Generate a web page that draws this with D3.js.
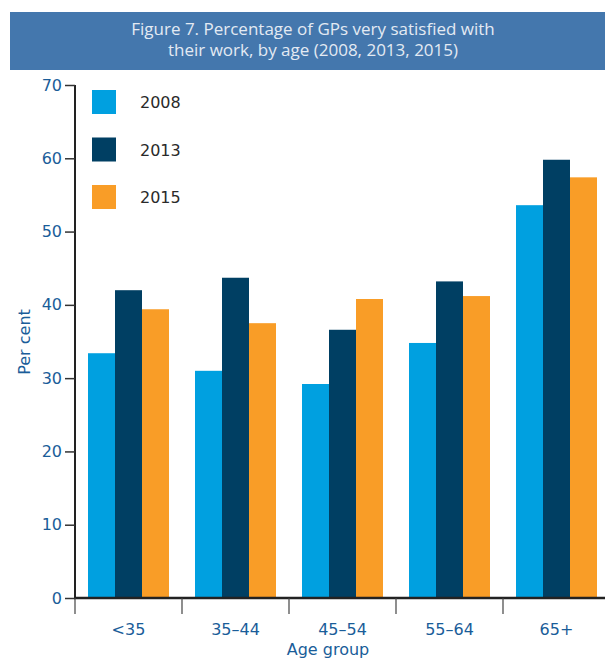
<!DOCTYPE html>
<html>
<head>
<meta charset="utf-8">
<script src="https://cdn.jsdelivr.net/npm/d3@7"></script>
<style>
  body { margin: 0; background: #fff; }
  svg { display: block; }
</style>
</head>
<body>
<div id="chart"></div>
<script>
// data
const ageGroups = ["<35", "35\u201344", "45\u201354", "55\u201364", "65+"];
const years = ["2008", "2013", "2015"];
const values2008 = [33.4, 31.0, 29.2, 34.8, 53.6];
const values2013 = [42.0, 43.7, 36.6, 43.2, 59.8];
const values2015 = [39.4, 37.5, 40.8, 41.2, 57.4];
const yTicks = [0, 10, 20, 30, 40, 50, 60, 70];
const colors = ["#00a0e0", "#003f63", "#f99d27"];

const W = 605, H = 660;
const svg = d3.select("#chart").append("svg").attr("width", W).attr("height", H);
const font = "'DejaVu Sans', Verdana, sans-serif";

// title banner
svg.append("rect").attr("x", 10).attr("y", 12).attr("width", W - 10).attr("height", 58).attr("fill", "#4477ad");
const title = svg.append("text").attr("x", 313).attr("y", 35)
  .attr("text-anchor", "middle").attr("fill", "#e3eaf3")
  .style("font-family", "'Open Sans', sans-serif").style("font-size", "17px");
title.append("tspan").attr("x", 313).text("Figure 7. Percentage of GPs very satisfied with");
title.append("tspan").attr("x", 313).attr("dy", 21).text("their work, by age (2008, 2013, 2015)");

const x0 = d3.scaleBand().domain(ageGroups).range([75, 610]).paddingInner(0.243).paddingOuter(0.1215);
const x1 = d3.scaleBand().domain(years).range([0, x0.bandwidth()]);
const y = d3.scaleLinear().domain([0, 70]).range([598, 85]);

const series = [values2008, values2013, values2015];
const rows = ageGroups.map((g, i) => ({ g, vals: years.map((yr, j) => ({ yr, v: series[j][i] })) }));

// bars
svg.append("g").selectAll("g").data(rows).join("g")
  .attr("transform", d => `translate(${x0(d.g)},0)`)
  .selectAll("rect").data(d => d.vals).join("rect")
  .attr("x", d => x1(d.yr))
  .attr("width", x1.bandwidth())
  .attr("y", d => y(d.v))
  .attr("height", d => y(0) - y(d.v))
  .attr("fill", (d, j) => colors[j]);

// y axis
const yAxis = svg.append("g").attr("transform", "translate(75,0)")
  .call(d3.axisLeft(y).tickValues(yTicks).tickSize(10).tickPadding(3));
yAxis.select(".domain").attr("stroke", "#222").attr("stroke-width", 2).attr("d", "M0,85V599");
yAxis.selectAll(".tick line").attr("stroke", "#333").attr("stroke-width", 1.5);
yAxis.selectAll("text").attr("fill", "#1a5d99").style("font-family", font).style("font-size", "16px");

// x axis
const xAxis = svg.append("g").attr("transform", "translate(0,598)");
xAxis.append("line").attr("x1", 74).attr("x2", W).attr("y1", 0).attr("y2", 0).attr("stroke", "#222").attr("stroke-width", 2.5);
const bounds = ageGroups.map(g => x0(g) - x0.step() * x0.paddingInner() / 2);
xAxis.selectAll(".sep").data(bounds).join("line")
  .attr("x1", d => d).attr("x2", d => d).attr("y1", 0).attr("y2", 16)
  .attr("stroke", "#444").attr("stroke-width", 1.2);
xAxis.selectAll(".lab").data(ageGroups).join("text")
  .attr("x", d => x0(d) + x0.bandwidth() / 2).attr("y", 37)
  .attr("text-anchor", "middle").attr("fill", "#1a5d99")
  .style("font-family", font).style("font-size", "16px")
  .text(d => d);

svg.append("text").attr("x", 328).attr("y", 655).attr("text-anchor", "middle")
  .attr("fill", "#1a5d99").style("font-family", font).style("font-size", "16px")
  .text("Age group");
svg.append("text").attr("transform", "translate(30,342) rotate(-90)").attr("text-anchor", "middle")
  .attr("fill", "#1a5d99").style("font-family", font).style("font-size", "16px")
  .text("Per cent");

// legend
const legend = svg.append("g").selectAll("g").data(years).join("g")
  .attr("transform", (d, i) => `translate(92,${90 + i * 47.5})`);
legend.append("rect").attr("width", 24).attr("height", 24).attr("fill", (d, i) => colors[i]);
legend.append("text").attr("x", 48).attr("y", 18).attr("fill", "#2a2a2a")
  .style("font-family", font).style("font-size", "16px").text(d => d);
</script>
</body>
</html>
